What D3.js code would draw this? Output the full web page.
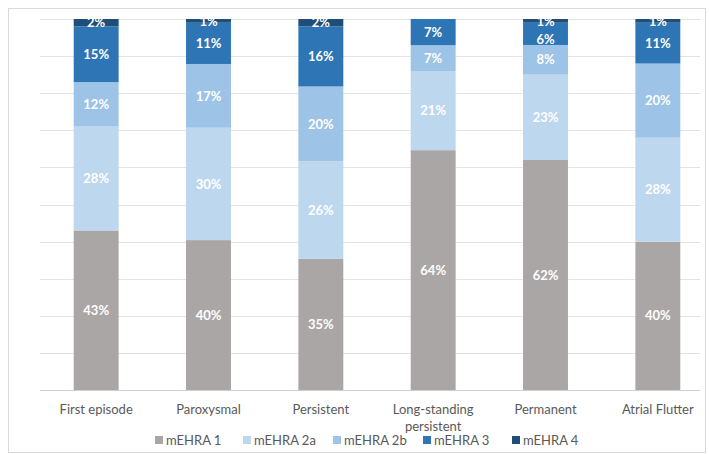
<!DOCTYPE html>
<html>
<head>
<meta charset="utf-8">
<script src="https://cdn.jsdelivr.net/npm/d3@7"></script>
<style>
  body { margin: 0; background: #fff; }
  svg { display: block; }
</style>
</head>
<body>
<div id="chart"></div>
<script>
// categories (x axis), wrapped where the reference wraps
const categories = ['First episode', 'Paroxysmal', 'Persistent', 'Long-standing persistent', 'Permanent', 'Atrial Flutter'];
const categoryLines = [['First episode'], ['Paroxysmal'], ['Persistent'], ['Long-standing', 'persistent'], ['Permanent'], ['Atrial Flutter']];
const seriesNames = ['mEHRA 1', 'mEHRA 2a', 'mEHRA 2b', 'mEHRA 3', 'mEHRA 4'];

// values in % per series, in category order
const mEHRA1  = [43, 40, 35, 64, 62, 40];
const mEHRA2a = [28, 30, 26, 21, 23, 28];
const mEHRA2b = [12, 17, 20,  7,  8, 20];
const mEHRA3  = [15, 11, 16,  7,  6, 11];
const mEHRA4  = [ 2,  1,  2,  0,  1,  1];

const COLORS = ['#aba6a6', '#bdd7ee', '#9dc3e6', '#2e75b6', '#1f4e79'];

const W = 709, H = 454;
const plot = { left: 40, right: 714, top: 19, bottom: 390 };
const gridRight = 700;

const rows = categories.map((c, i) => ({
  cat: c,
  'mEHRA 1': mEHRA1[i], 'mEHRA 2a': mEHRA2a[i], 'mEHRA 2b': mEHRA2b[i],
  'mEHRA 3': mEHRA3[i], 'mEHRA 4': mEHRA4[i]
}));

const svg = d3.select('#chart').append('svg')
  .attr('width', W).attr('height', H)
  .style('font-family', 'Lato, "Noto Sans", sans-serif');

// chart frame
svg.append('rect').attr('x', 8.5).attr('y', 8.5).attr('width', 697).attr('height', 444)
  .attr('fill', '#fff').attr('stroke', '#d9d9d9').attr('stroke-width', 1);

const x = d3.scaleBand().domain(categories).range([plot.left, plot.right]).paddingInner(0.6).paddingOuter(0.3);
const y = d3.scaleLinear().domain([0, 1]).range([plot.bottom, plot.top]);

// gridlines every 10%
const gridG = svg.append('g');
gridG.selectAll('line').data(d3.range(0, 1.0001, 0.1)).join('line')
  .attr('x1', plot.left).attr('x2', gridRight)
  .attr('y1', d => Math.round(y(d)) + 0.5).attr('y2', d => Math.round(y(d)) + 0.5)
  .attr('stroke', (d, i) => i === 0 ? '#d0d0d0' : '#e3e3e3').attr('stroke-width', 1);

const stack = d3.stack().keys(seriesNames).offset(d3.stackOffsetExpand);
const layers = stack(rows);

const barG = svg.append('g');
layers.forEach((layer, li) => {
  const g = barG.append('g').attr('fill', COLORS[li]);
  g.selectAll('rect').data(layer).join('rect')
    .attr('x', d => x(d.data.cat))
    .attr('width', x.bandwidth())
    .attr('y', d => y(d[1]))
    .attr('height', d => y(d[0]) - y(d[1]));
});

// value labels: centred in the segment, pushed down when crowding the one above
const labels = [];
categories.forEach((c, ci) => {
  let prevY = -Infinity;
  for (let li = layers.length - 1; li >= 0; li--) {
    const d = layers[li][ci];
    const v = d.data[layers[li].key];
    if (!(v > 0)) continue;
    let ly = (y(d[0]) + y(d[1])) / 2;
    if (ly - prevY < 18) ly = prevY + 18;
    prevY = ly;
    labels.push({ x: x(c) + x.bandwidth() / 2, y: ly, text: v + '%' });
  }
});
svg.append('g').selectAll('text').data(labels).join('text')
  .attr('x', d => d.x).attr('y', d => d.y).attr('dy', '0.36em')
  .attr('text-anchor', 'middle')
  .attr('fill', '#fff').attr('font-size', 13).attr('font-weight', 'bold')
  .text(d => d.text);

// category labels
const axG = svg.append('g');
categories.forEach((c, i) => {
  const cx = x(c) + x.bandwidth() / 2;
  const t = axG.append('text')
    .attr('x', cx).attr('y', 414)
    .attr('text-anchor', 'middle').attr('fill', '#595959').attr('font-size', 13);
  categoryLines[i].forEach((ln, j) => {
    t.append('tspan').attr('x', cx).attr('dy', j ? 17 : 0).text(ln);
  });
});

// legend
const legG = svg.append('g');
const legX = [155, 243, 333, 423, 512];
seriesNames.forEach((s, i) => {
  legG.append('rect').attr('x', legX[i]).attr('y', 436).attr('width', 8).attr('height', 8).attr('fill', COLORS[i]);
  legG.append('text').attr('x', legX[i] + 11).attr('y', 444.5)
    .attr('fill', '#595959').attr('font-size', 13).text(s);
});
</script>
</body>
</html>
